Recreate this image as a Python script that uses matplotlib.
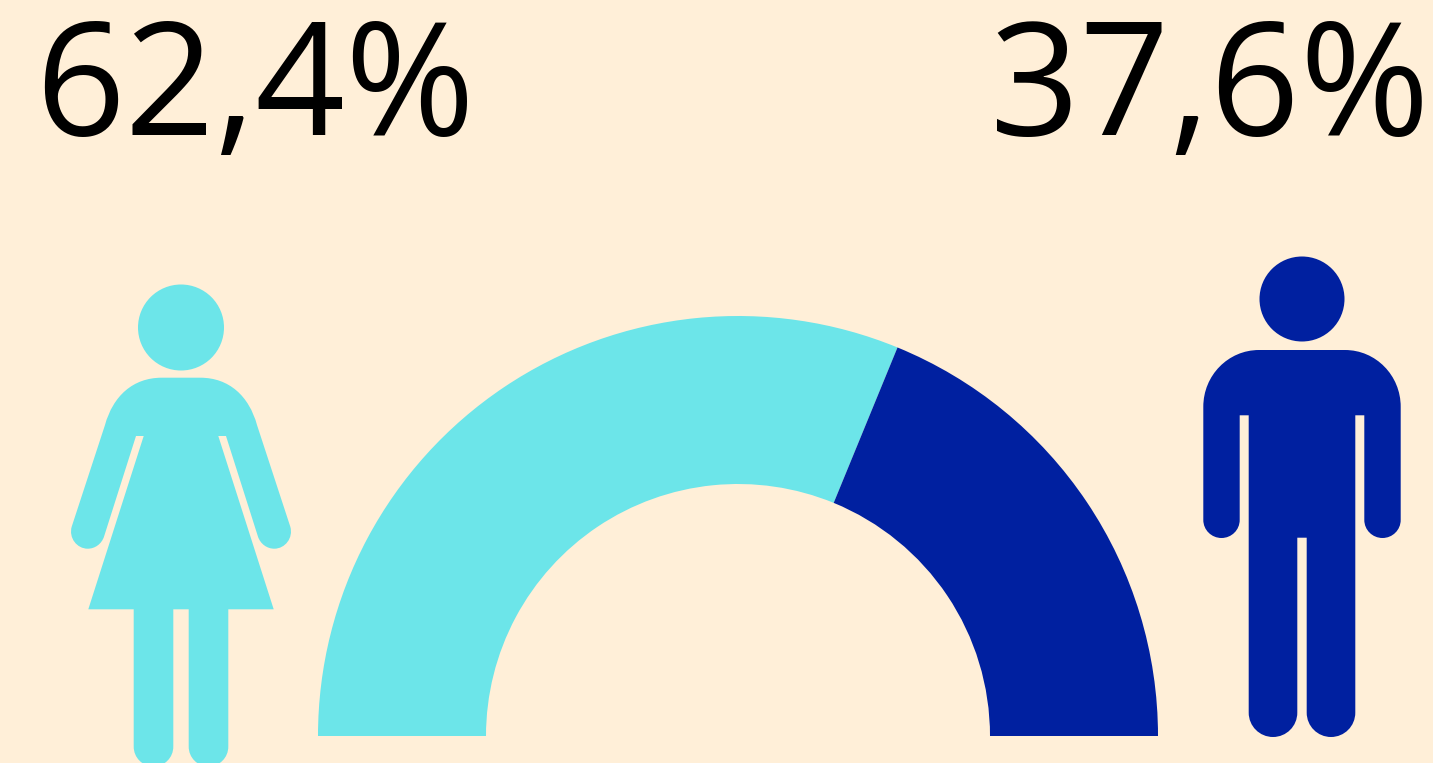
import matplotlib
matplotlib.use('Agg')
import matplotlib.pyplot as plt
from matplotlib.patches import Wedge, Circle, PathPatch
from matplotlib.path import Path

# 數據
shares = [62.4, 37.6]
share_labels = ['62,4%', '37,6%']

bg = '#FFEFD8'
cyan = '#6CE5E9'
navy = '#0020A0'
K = 0.5523


def add_figure(ax, cx, head_y, head_r, half, color):
    # half = 左半邊輪廓 (由頂部中央往下到胯下)，右半邊鏡射
    verts, codes = [], []
    for code, pts in half:
        verts += pts
        codes += [code] * len(pts)
    rverts = [(2 * cx - x, y) for x, y in verts][::-1]
    path = Path(verts + rverts, codes + [Path.LINETO] + codes[1:][::-1])
    ax.add_patch(PathPatch(path, facecolor=color, edgecolor='none'))
    ax.add_patch(Circle((cx, head_y), head_r, facecolor=color, edgecolor='none'))


def arc(p0, p1, corner):
    # 四分之一圓弧 (p0 已是目前位置)
    c1 = (p0[0] + K * (corner[0] - p0[0]), p0[1] + K * (corner[1] - p0[1]))
    c2 = (p1[0] + K * (corner[0] - p1[0]), p1[1] + K * (corner[1] - p1[1]))
    return (Path.CURVE4, [c1, c2, p1])


fig = plt.figure(figsize=(14.33, 7.63), dpi=100, facecolor=bg)
ax = fig.add_axes([0, 0, 1, 1])
ax.set_xlim(0, 1433)
ax.set_ylim(763, 0)
ax.axis('off')

# 半圓環
cx, cy, r_out, r_in = 738, 736, 420, 252
split = 180 + 180 * shares[0] / sum(shares)
ax.add_patch(Wedge((cx, cy), r_out, 180, split, width=r_out - r_in, facecolor=cyan, edgecolor='none'))
ax.add_patch(Wedge((cx, cy), r_out, split, 360, width=r_out - r_in, facecolor=navy, edgecolor='none'))

# 女性圖示
woman = [
    (Path.MOVETO, [(181, 377.7)]),
    (Path.LINETO, [(161.7, 377.7)]),
    (Path.CURVE4, [(133, 377.7), (113, 396), (105, 425)]),
    (Path.LINETO, [(71.7, 526.7)]),
    (Path.CURVE4, [(68.5, 538), (77, 548.7), (87.7, 548.7)]),
    (Path.CURVE4, [(95, 548.7), (101.5, 544), (104, 536.7)]),
    (Path.LINETO, [(136, 436), (143.7, 436), (88.3, 609.3), (133.7, 609.3), (133.7, 746.7)]),
    arc((133.7, 746.7), (153.5, 766.5), (133.7, 766.5)),
    arc((153.5, 766.5), (173.3, 746.7), (173.3, 766.5)),
    (Path.LINETO, [(173.3, 609.3), (181, 609.3)]),
]
add_figure(ax, 181, 327.5, 43, woman, cyan)

# 男性圖示
man = [
    (Path.MOVETO, [(1302, 350)]),
    (Path.LINETO, [(1259, 350)]),
    arc((1259, 350), (1203.3, 406.7), (1203.3, 350)),
    (Path.LINETO, [(1203.3, 520)]),
    arc((1203.3, 520), (1221.5, 538), (1203.3, 538)),
    arc((1221.5, 538), (1239.7, 520), (1239.7, 538)),
    (Path.LINETO, [(1239.7, 415.3), (1248.7, 415.3), (1248.7, 712.7)]),
    arc((1248.7, 712.7), (1273, 737), (1248.7, 737)),
    arc((1273, 737), (1297.3, 712.7), (1297.3, 737)),
    (Path.LINETO, [(1297.3, 537.7), (1302, 537.7)]),
]
add_figure(ax, 1302, 299, 42.5, man, navy)

# 百分比文字
ax.text(35, 135, share_labels[0], family='Open Sans', fontsize=113, color='black', ha='left', va='baseline')
ax.text(1430, 135, share_labels[1], family='Open Sans', fontsize=113, color='black', ha='right', va='baseline')

fig.savefig('out.png', dpi=100, facecolor=bg)
